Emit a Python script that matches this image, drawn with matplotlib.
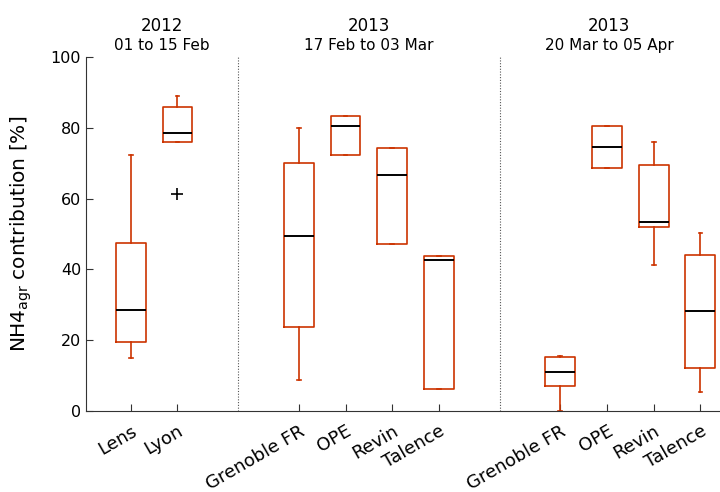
import matplotlib
matplotlib.use("Agg")
import matplotlib.pyplot as plt


# box statistics, one entry per site

sites = ["Lens", "Lyon",
         "Grenoble FR", "OPE", "Revin", "Talence",
         "Grenoble FR", "OPE", "Revin", "Talence"]
positions = [1, 2, 4.6, 5.6, 6.6, 7.6, 10.2, 11.2, 12.2, 13.2]

whis_lo = [15.0, 76.0, 8.7, 72.4, 47.3, 6.1, 0.0, 68.7, 41.3, 5.5]
q1 = [19.5, 76.0, 23.7, 72.4, 47.3, 6.1, 7.0, 68.7, 51.9, 12.1]
median = [28.5, 78.5, 49.3, 80.6, 66.8, 42.8, 11.0, 74.6, 53.5, 28.2]
q3 = [47.5, 85.9, 70.0, 83.2, 74.4, 43.8, 15.2, 80.4, 69.5, 44.1]
whis_hi = [72.3, 89.0, 80.0, 83.2, 74.4, 43.8, 15.6, 80.4, 75.9, 50.4]
outliers = [[], [61.3], [], [], [], [], [], [], [], []]

# period headers and separators
periods = ["2012", "2013", "2013"]
period_dates = ["01 to 15 Feb", "17 Feb to 03 Mar", "20 Mar to 05 Apr"]
separators = [3.3, 8.9]

box_color = "#cc3300"

fig = plt.figure(figsize=(7.2, 4.92), dpi=100)
ax = fig.add_axes([0.1194, 0.1646, 0.8793, 0.7195])

stats = []
for i in range(len(sites)):
    stats.append({
        "whislo": whis_lo[i], "q1": q1[i], "med": median[i],
        "q3": q3[i], "whishi": whis_hi[i], "fliers": outliers[i],
    })

ax.bxp(
    stats, positions=positions, widths=0.64, capwidths=0.08,
    boxprops=dict(color=box_color, linewidth=1.2),
    whiskerprops=dict(color=box_color, linewidth=1.2, linestyle="-"),
    capprops=dict(color=box_color, linewidth=1.2),
    medianprops=dict(color="black", linewidth=1.4),
    flierprops=dict(marker="+", markeredgecolor="black", markersize=9,
                    markeredgewidth=1.2, linestyle="none"),
)

xlim = (0.04, 13.6)
ax.set_xlim(*xlim)
ax.set_ylim(0, 100)

for s in separators:
    ax.plot([s, s], [0, 100], color="#555555", linestyle=(0, (1, 1.5)),
            linewidth=0.8)

# headers centred over each period block
bounds = [xlim[0]] + separators + [xlim[1]]
for k in range(len(periods)):
    xc = (bounds[k] + bounds[k + 1]) / 2
    ax.text(xc, 1.073, periods[k], transform=ax.get_xaxis_transform(),
            ha="center", va="baseline", fontsize=12)
    ax.text(xc, 1.02, period_dates[k], transform=ax.get_xaxis_transform(),
            ha="center", va="baseline", fontsize=11)

ax.set_xticks(positions)
ax.set_xticklabels(sites, rotation=30, ha="right", va="top",
                   rotation_mode="anchor", fontsize=13)
ax.set_yticks([0, 20, 40, 60, 80, 100])
ax.tick_params(axis="y", labelsize=11.5)
ax.tick_params(direction="in", length=5, color="#333333")
ax.tick_params(axis="x", pad=8)

ax.set_ylabel("NH4$_{\\mathrm{agr}}$ contribution [%]", fontsize=14.5,
              labelpad=12)

ax.spines["top"].set_visible(False)
ax.spines["right"].set_visible(False)
ax.spines["left"].set_color("#333333")
ax.spines["bottom"].set_color("#333333")

plt.savefig("out.png", dpi=100)
